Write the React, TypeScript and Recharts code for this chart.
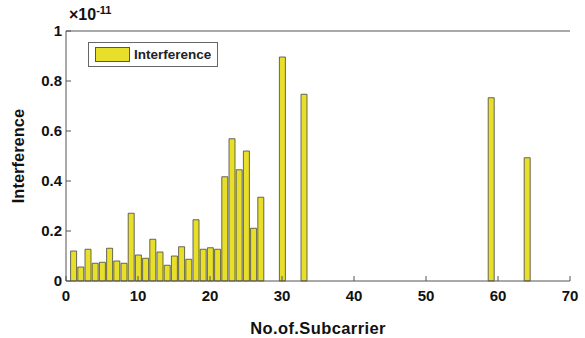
import { Bar, BarChart, Legend, ReferenceLine, XAxis, YAxis } from "recharts";

// subcarrier index and interference (x 1e-11)
const subcarriers = [
  1, 2, 3, 4, 5, 6, 7, 8, 9, 10, 11, 12, 13, 14, 15, 16, 17, 18, 19, 20, 21, 22, 23, 24, 25, 26, 27,
  30, 33, 59, 64,
];
const interference = [
  0.12, 0.056, 0.127, 0.071, 0.075, 0.131, 0.08, 0.071, 0.271, 0.104, 0.091, 0.167, 0.116, 0.063,
  0.1, 0.137, 0.087, 0.245, 0.127, 0.133, 0.127, 0.417, 0.569, 0.445, 0.52, 0.211, 0.335,
  0.896, 0.747, 0.733, 0.493,
];
const xTicks = [0, 10, 20, 30, 40, 50, 60, 70];
const yTicks = [0, 0.2, 0.4, 0.6, 0.8, 1];

const data = subcarriers.map((x, i) => ({ x, value: interference[i] }));

const font = "'Liberation Sans', Arial, sans-serif";
const axisColor = "#555";
const barFill = "#e8df2a";
const tickStyle = { fontFamily: font, fontSize: 15, fontWeight: 700, fill: "#111" };
const labelStyle = { fontFamily: font, fontSize: 16.5, fontWeight: 700, fill: "#111" };

function LegendBox() {
  return (
    <div
      style={{
        display: "flex",
        alignItems: "center",
        gap: 4,
        border: "1px solid #666",
        background: "#fff",
        padding: "4px 6px",
        fontFamily: font,
        fontSize: 13.5,
        fontWeight: 700,
        color: "#222",
      }}
    >
      <span
        style={{
          width: 33,
          height: 13,
          background: barFill,
          border: "1px solid #555",
          display: "inline-block",
        }}
      />
      <span>Interference</span>
    </div>
  );
}

export default function App() {
  return (
    <div style={{ position: "fixed", left: 0, top: 0, width: 585, height: 338, background: "#fff" }}>
      <BarChart
        width={585}
        height={338}
        data={data}
        margin={{ top: 31, right: 15, bottom: 27, left: 0 }}
      >
        <XAxis
          dataKey="x"
          type="number"
          domain={[0, 70]}
          ticks={xTicks}
          interval={0}
          height={30}
          stroke={axisColor}
          tickSize={-5}
          tickMargin={14}
          tick={tickStyle}
          label={{
            value: "No.of.Subcarrier",
            position: "insideBottom",
            offset: -23,
            style: { ...labelStyle, letterSpacing: 0.4 },
          }}
        />
        <XAxis
          xAxisId="top"
          dataKey="x"
          type="number"
          orientation="top"
          domain={[0, 70]}
          ticks={xTicks}
          height={0}
          stroke={axisColor}
          tickSize={-5}
          tickFormatter={() => ""}
        />
        <YAxis
          type="number"
          domain={[0, 1]}
          ticks={yTicks}
          interval={0}
          width={66}
          stroke={axisColor}
          tickSize={-5}
          tickMargin={9}
          tick={tickStyle}
          label={{
            value: "Interference",
            angle: -90,
            position: "insideLeft",
            offset: 18,
            style: { ...labelStyle, textAnchor: "middle" },
          }}
        />
        <YAxis
          yAxisId="right"
          type="number"
          orientation="right"
          domain={[0, 1]}
          ticks={yTicks}
          width={0}
          stroke={axisColor}
          tickSize={-5}
          tickFormatter={() => ""}
        />
        <ReferenceLine y={1} stroke={axisColor} />
        <Legend
          layout="vertical"
          align="center"
          verticalAlign="middle"
          wrapperStyle={{ top: 42, left: 88, width: "auto", height: "auto" }}
          content={() => <LegendBox />}
        />
        <Bar
          dataKey="value"
          name="Interference"
          fill={barFill}
          stroke="#444"
          strokeWidth={0.8}
          barSize={6}
          isAnimationActive={false}
        />
      </BarChart>
      <div
        style={{
          position: "absolute",
          left: 69,
          top: 4,
          fontFamily: font,
          fontSize: 16,
          fontWeight: 700,
          color: "#111",
        }}
      >
        ×10<sup style={{ fontSize: 11, verticalAlign: 6 }}>-11</sup>
      </div>
    </div>
  );
}
